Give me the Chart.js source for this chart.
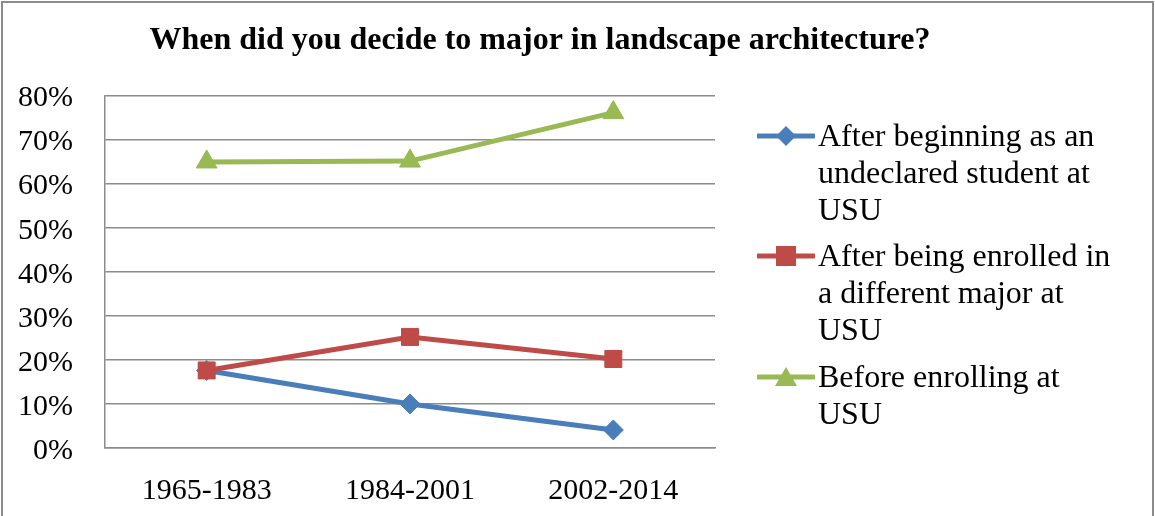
<!DOCTYPE html>
<html>
<head>
<meta charset="utf-8">
<script src="https://cdn.jsdelivr.net/npm/chart.js@4/dist/chart.umd.min.js"></script>
<style>
  html, body { margin: 0; padding: 0; background: #fff; }
  #wrap { position: relative; width: 1155px; height: 516px; overflow: hidden; }
  #frame { position: absolute; left: 1px; top: 1px; width: 1149px; height: 530px;
           border: 2px solid #8c8c8c; pointer-events: none; }
  .item { position: absolute; left: 818px; font-family: "Liberation Serif", serif;
          font-size: 32px; line-height: 37px; color: #000; white-space: nowrap; }
  .mark { position: absolute; left: 757px; }
</style>
</head>
<body>
<div id="wrap">
  <canvas id="chart" width="1155" height="516"></canvas>
  <div id="legend"></div>
  <div id="frame"></div>
</div>
<script>
const categories = ['1965-1983', '1984-2001', '2002-2014'];
const seriesNames = [
  'After beginning as an undeclared student at USU',
  'After being enrolled in a different major at USU',
  'Before enrolling at USU'
];
const afterUndeclared = [17.6, 10.0, 4.1];
const afterOtherMajor = [17.6, 25.2, 20.2];
const beforeEnrolling = [64.9, 65.1, 76.1];
const yMax = 80;
const yStep = 10;

const colors = ['#4a7ebb', '#be4b48', '#98b954'];
const shapes = ['rectRot', 'rect', 'triangle'];
const radii = [10, 12, 12];

// legend lines, wrapped the way the picture wraps them
const legendLines = [
  ['After beginning as an', 'undeclared student at', 'USU'],
  ['After being enrolled in', 'a different major at', 'USU'],
  ['Before enrolling at', 'USU']
];
const legendTops = [117, 237, 358];

const values = [afterUndeclared, afterOtherMajor, beforeEnrolling];

new Chart(document.getElementById('chart'), {
  type: 'line',
  data: {
    labels: categories,
    datasets: values.map((v, i) => ({
      label: seriesNames[i],
      data: v,
      borderColor: colors[i],
      backgroundColor: colors[i],
      borderWidth: 5,
      pointStyle: shapes[i],
      pointRadius: radii[i],
      pointHoverRadius: radii[i],
      pointBorderWidth: 1,
      tension: 0,
      order: 3 - i
    }))
  },
  options: {
    responsive: false,
    animation: false,
    layout: { padding: { left: 0, right: 75, top: 0, bottom: 0 } },
    plugins: {
      legend: { display: false },
      tooltip: { enabled: false },
      title: {
        display: true,
        text: 'When did you decide to major in landscape architecture?',
        color: '#000',
        font: { family: 'Liberation Serif', size: 32, weight: 'bold' },
        padding: { top: 22, bottom: 35 }
      }
    },
    scales: {
      x: {
        offset: true,
        grid: { display: false, drawTicks: false },
        border: { display: true, color: '#8c8c8c', width: 1.5 },
        ticks: { color: '#000', padding: 25, font: { family: 'Liberation Serif', size: 30 } },
        afterFit: s => { s.height = 68; }
      },
      y: {
        min: 0,
        max: yMax,
        grid: { color: '#8c8c8c', lineWidth: 1.5, drawTicks: false, tickLength: 0 },
        border: { display: true, color: '#8c8c8c', width: 1.5 },
        ticks: {
          stepSize: yStep,
          color: '#000',
          padding: 32,
          labelOffset: 3,
          font: { family: 'Liberation Serif', size: 30 },
          callback: v => v + '%'
        },
        afterFit: s => { s.width = 105; }
      },
      y2: {
        position: 'right',
        grid: { display: false, drawTicks: false },
        border: { display: false },
        ticks: { display: false },
        afterFit: s => { s.width = 365; }
      }
    }
  }
});

// html legend
const legend = document.getElementById('legend');
function markerSvg(i) {
  const c = colors[i];
  let shape = '';
  if (i === 0) shape = `<polygon points="29,2 39,12 29,22 19,12" fill="${c}"/>`;
  if (i === 1) shape = `<rect x="19" y="2" width="20" height="20" fill="${c}"/>`;
  if (i === 2) shape = `<polygon points="29,2 40,21 18,21" fill="${c}"/>`;
  return `<svg width="58" height="24"><line x1="1" y1="12" x2="57" y2="12" stroke="${c}" stroke-width="5" stroke-linecap="round"/>${shape}</svg>`;
}
legendLines.forEach((lines, i) => {
  const m = document.createElement('div');
  m.className = 'mark';
  m.style.top = (legendTops[i] + 7) + 'px';
  m.innerHTML = markerSvg(i);
  legend.appendChild(m);
  const t = document.createElement('div');
  t.className = 'item';
  t.style.top = legendTops[i] + 'px';
  t.innerHTML = lines.join('<br>');
  legend.appendChild(t);
});
</script>
</body>
</html>
